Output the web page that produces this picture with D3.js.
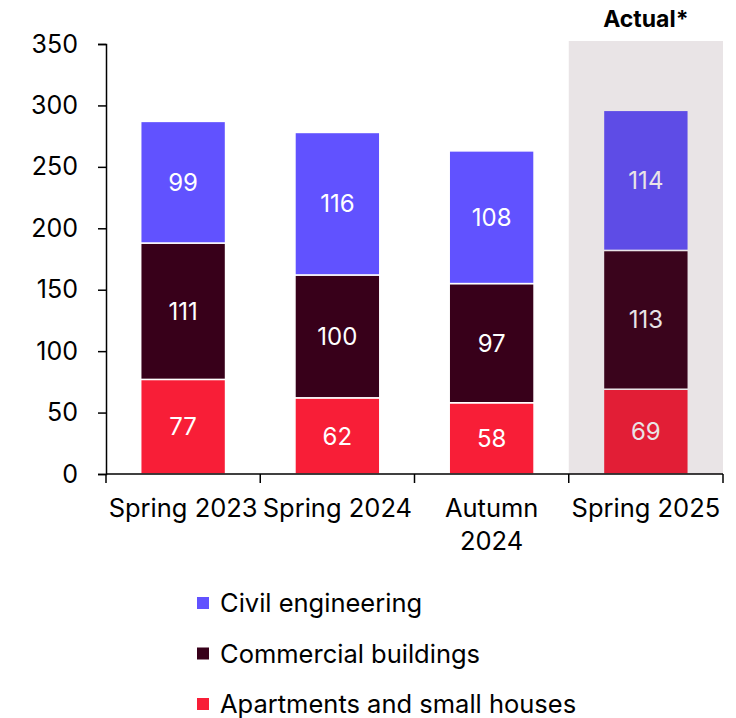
<!DOCTYPE html>
<html>
<head>
<meta charset="utf-8">
<script src="https://cdn.jsdelivr.net/npm/d3@7"></script>
<style>
  body { margin: 0; background: #fff; }
  text { font-family: Inter, "Liberation Sans", sans-serif; }
</style>
</head>
<body>
<div id="chart"></div>
<script>
// data
var categories = ["Spring 2023", "Spring 2024", "Autumn 2024", "Spring 2025"];
var seriesNames = ["Apartments and small houses", "Commercial buildings", "Civil engineering"];
var apartments = [77, 62, 58, 69];
var commercial = [111, 100, 97, 113];
var civil = [99, 116, 108, 114];
var yTicks = [0, 50, 100, 150, 200, 250, 300, 350];
var highlighted = "Spring 2025";
var highlightLabel = "Actual*";

var colors = ["#f81e37", "#38001a", "#6152ff"];

var width = 736, height = 718;
var margin = { top: 44, left: 106, right: 13, bottom: 244 };

var svg = d3.select("#chart").append("svg")
  .attr("width", width)
  .attr("height", height);

var rows = categories.map(function (c, i) {
  return { cat: c, a: apartments[i], b: commercial[i], c: civil[i] };
});
var keys = ["a", "b", "c"];
var stack = d3.stack().keys(keys)(rows);

var x = d3.scaleBand()
  .domain(categories)
  .range([margin.left, width - margin.right])
  .paddingInner(0.45)
  .paddingOuter(0.225);

// bands with no padding, for the tick marks and shaded area
var xb = d3.scaleBand().domain(categories).range([margin.left, width - margin.right]);

var y = d3.scaleLinear()
  .domain([0, 350])
  .range([height - margin.bottom, margin.top]);

// bars
var layer = svg.append("g").selectAll("g")
  .data(stack)
  .enter().append("g")
  .attr("fill", function (d, i) { return colors[i]; });

layer.selectAll("rect")
  .data(function (d) { return d; })
  .enter().append("rect")
  .attr("x", function (d) { return x(d.data.cat); })
  .attr("width", x.bandwidth())
  .attr("y", function (d) { return y(d[1]); })
  .attr("height", function (d) { return y(d[0]) - y(d[1]); })
  .attr("stroke", "#fff")
  .attr("stroke-width", 1.5);

// value labels
layer.selectAll("text")
  .data(function (d) { return d; })
  .enter().append("text")
  .attr("x", function (d) { return x(d.data.cat) + x.bandwidth() / 2; })
  .attr("y", function (d) { return (y(d[0]) + y(d[1])) / 2; })
  .attr("dy", "0.36em")
  .attr("text-anchor", "middle")
  .attr("fill", "#fff")
  .style("font-size", "24px")
  .text(function (d) { return d[1] - d[0]; });

// shaded "actual" area drawn over the bars
svg.append("rect")
  .attr("x", xb(highlighted))
  .attr("width", xb.bandwidth())
  .attr("y", y(350) - 3)
  .attr("height", y(0) - y(350) + 3)
  .attr("fill", "rgb(72,30,47)")
  .attr("opacity", 0.12);

svg.append("text")
  .attr("x", xb(highlighted) + xb.bandwidth() / 2)
  .attr("y", 27)
  .attr("text-anchor", "middle")
  .style("font-size", "23px")
  .style("font-weight", "bold")
  .text(highlightLabel);

// y axis
var yAxis = svg.append("g")
  .attr("transform", "translate(" + margin.left + ",0)")
  .call(d3.axisLeft(y).tickValues(yTicks).tickSize(8).tickPadding(20));
yAxis.select(".domain").attr("stroke", "#000").attr("stroke-width", 1.5);
yAxis.selectAll(".tick line").attr("stroke", "#000").attr("stroke-width", 1.5);
yAxis.selectAll("text")
  .style("font-size", "25px")
  .attr("fill", "#000")
  .style("font-family", "Inter, 'Liberation Sans', sans-serif");

// x axis
var xAxisG = svg.append("g")
  .attr("transform", "translate(0," + y(0) + ")");
xAxisG.append("line")
  .attr("x1", xb.range()[0]).attr("x2", xb.range()[1])
  .attr("stroke", "#000").attr("stroke-width", 1.5);
var bounds = categories.map(function (c) { return xb(c); }).concat([xb.range()[1]]);
xAxisG.selectAll("line.tk")
  .data(bounds)
  .enter().append("line")
  .attr("class", "tk")
  .attr("x1", function (d) { return d; })
  .attr("x2", function (d) { return d; })
  .attr("y1", 0).attr("y2", 9)
  .attr("stroke", "#000").attr("stroke-width", 1.5);

var labelWraps = { "Autumn 2024": ["Autumn", "2024"] };
xAxisG.selectAll("text.cat")
  .data(categories)
  .enter().append("text")
  .attr("class", "cat")
  .attr("x", function (d) { return xb(d) + xb.bandwidth() / 2; })
  .attr("y", 43)
  .attr("text-anchor", "middle")
  .style("font-size", "25.5px")
  .each(function (d) {
    var lines = labelWraps[d] || [d];
    var t = d3.select(this);
    lines.forEach(function (l, i) {
      t.append("tspan")
        .attr("x", xb(d) + xb.bandwidth() / 2)
        .attr("dy", i === 0 ? 0 : 33)
        .text(l);
    });
  });

// legend (top to bottom: civil, commercial, apartments)
var legendOrder = [2, 1, 0];
var legend = svg.append("g").selectAll("g")
  .data(legendOrder)
  .enter().append("g")
  .attr("transform", function (d, i) { return "translate(197," + (603 + i * 50.5) + ")"; });

legend.append("rect")
  .attr("x", 0).attr("y", -6)
  .attr("width", 12).attr("height", 12)
  .attr("fill", function (d) { return colors[d]; });

legend.append("text")
  .attr("x", 23)
  .attr("dy", "0.36em")
  .style("font-size", "25.5px")
  .text(function (d) { return seriesNames[d]; });
</script>
</body>
</html>
